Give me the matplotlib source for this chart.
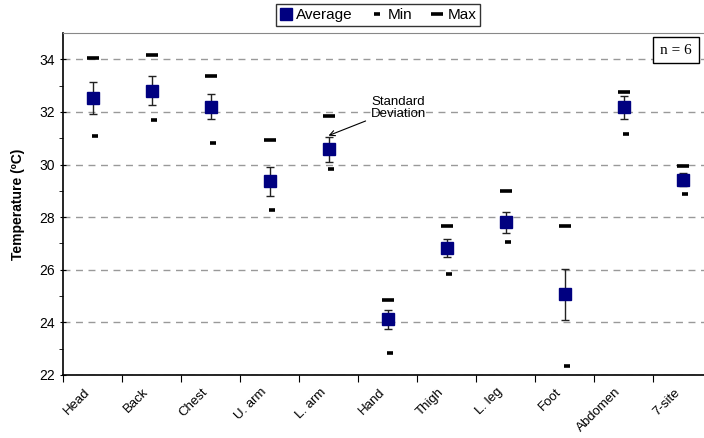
import matplotlib
matplotlib.use("Agg")
import matplotlib.pyplot as plt
import numpy as np

categories = ["Head", "Back", "Chest", "U. arm", "L. arm", "Hand", "Thigh", "L. leg", "Foot", "Abdomen", "7-site"]
avg = [32.52, 32.81, 32.20, 29.36, 30.58, 24.12, 26.82, 27.80, 25.07, 32.17, 29.43]
sd = [0.60, 0.56, 0.47, 0.55, 0.47, 0.36, 0.34, 0.39, 0.97, 0.42, 0.23]
vmin = [31.08, 31.68, 30.82, 28.26, 29.83, 22.85, 25.85, 27.04, 22.34, 31.17, 28.87]
vmax = [34.05, 34.15, 33.37, 30.93, 31.84, 24.85, 27.65, 28.98, 27.66, 32.74, 29.93]

plt.rcParams['font.family'] = ['Liberation Sans', 'DejaVu Sans']

fig = plt.figure(figsize=(7.04, 4.38), dpi=100)
ax = fig.add_axes([63/704, 63/438, 649/704, 342/438])

x = np.arange(len(categories))
ax.errorbar(x, avg, yerr=sd, fmt='none', ecolor='#222222', elinewidth=1.0, capsize=3, capthick=1.0, zorder=3)
h_avg, = ax.plot(x, avg, 's', color='#000080', markersize=8.5, linestyle='none', zorder=4, label='Average')
h_min, = ax.plot(x + 0.04, vmin, '_', color='black', markersize=4.5, markeredgewidth=2.6, linestyle='none', zorder=4, label='Min')
h_max, = ax.plot(x, vmax, '_', color='black', markersize=8, markeredgewidth=2.6, linestyle='none', zorder=4, label='Max')

ax.set_xlim(-0.5, len(categories) - 0.5)
ax.set_ylim(22, 35)
ax.set_yticks(np.arange(22, 35, 2))
ax.set_yticks(np.arange(22, 35, 1), minor=True)
ax.yaxis.grid(True, which='major', linestyle=(0, (5, 4)), color='#999999', linewidth=1.0)
ax.set_axisbelow(True)

ax.set_xticks(np.arange(-0.5, len(categories), 1.0))
ax.set_xticklabels([])
ax.set_xticks(x - 0.15, minor=True)
ax.set_xticklabels(categories, minor=True, rotation=45, ha='right', rotation_mode='anchor', fontsize=9.5)
ax.tick_params(axis='x', which='minor', length=0, pad=8)
ax.tick_params(axis='x', which='major', length=5, direction='out')
ax.tick_params(axis='y', which='major', length=5, direction='inout', labelsize=10)
ax.tick_params(axis='y', which='minor', length=3, direction='out')

ax.spines['right'].set_visible(False)
ax.spines['top'].set_color('#888888')
ax.spines['left'].set_linewidth(1.2)
ax.spines['bottom'].set_linewidth(1.2)

ax.set_ylabel('Temperature (ºC)', fontsize=10, fontweight='bold', labelpad=10)

ax.annotate('Standard\nDeviation', xy=(4.0, 31.1), xytext=(4.72, 32.15),
            fontsize=9.5, va='center', ha='left', linespacing=1.1,
            arrowprops=dict(arrowstyle='->', color='black', lw=0.8, shrinkA=2, shrinkB=0))

fig.text(676/704, 1 - 50/438, 'n = 6', fontsize=11, family='Liberation Serif', ha='center', va='center',
         bbox=dict(boxstyle='square,pad=0.45', facecolor='white', edgecolor='black', linewidth=1.0))

leg = fig.legend(handles=[h_avg, h_min, h_max], loc='center', bbox_to_anchor=(378/704, 1 - 15/438),
                 ncol=3, fontsize=11, frameon=True, fancybox=False, edgecolor='black',
                 handlelength=0.8, handletextpad=0.3, columnspacing=1.2, borderpad=0.25, markerscale=1.0)
leg.get_frame().set_linewidth(1.0)

fig.savefig('out.png', dpi=100)
